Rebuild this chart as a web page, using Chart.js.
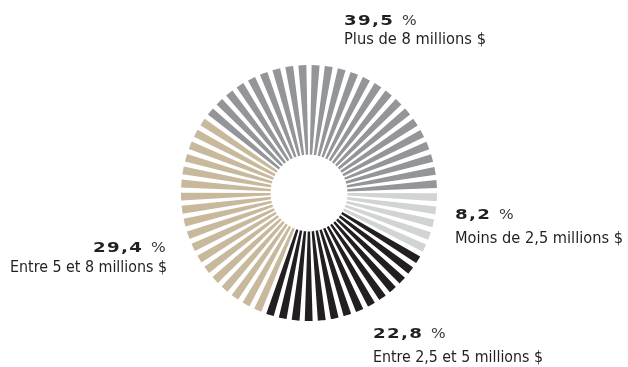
<!DOCTYPE html>
<html>
<head>
<meta charset="utf-8">
<script src="https://cdn.jsdelivr.net/npm/chart.js@4.4.0/dist/chart.umd.min.js"></script>
<style>
  html, body { margin: 0; padding: 0; background: #fff; }
  #wrap { width: 628px; height: 367px; position: relative; }
</style>
</head>
<body>
<div id="wrap"><canvas id="sunChart"></canvas></div>
<script>
// share of each bracket, in percent
const categories = ['Plus de 8 millions $', 'Moins de 2,5 millions $', 'Entre 2,5 et 5 millions $', 'Entre 5 et 8 millions $'];
const values = [39.5, 8.2, 22.8, 29.4];
const colors = ['#939598', '#d1d3d4', '#231f20', '#c8b99d'];

// label placement: [caption x, baseline of the number, baseline of the caption, caption width]
const labelPos = [
	[344, 25, 43.5, 142],
	[455, 219, 242.5, 168],
	[373, 338, 362, 170],
	[10, 252, 271.5, 157],
];
const numberX = [344, 455, 373, 93];

// split every bracket into thin rays, about 60 rays around the ring
const RAYS = 60;
const FILL = 0.6;
let rayData = [];
let rayColors = [];
values.forEach((v, i) => {
	let n = Math.max(1, Math.round((v / 100) * RAYS));
	let step = v / n;
	for (let k = 0; k < n; k++) {
		rayData.push(step * FILL, step * (1 - FILL));
		rayColors.push(colors[i], 'rgba(0,0,0,0)');
	}
});

const labelsPlugin = {
	id: 'bracketLabels',
	afterDraw(chart) {
		const ctx = chart.ctx;
		values.forEach((v, i) => {
			const [x, yNum, yTxt, w] = labelPos[i];
			const num = v.toFixed(1).replace('.', ',');
			ctx.save();
			ctx.fillStyle = '#231f20';
			ctx.textBaseline = 'alphabetic';
			ctx.font = 'bold 14px "DejaVu Sans"';
			ctx.letterSpacing = '1px';
			ctx.translate(numberX[i], yNum);
			ctx.scale(1.3, 1);
			ctx.fillText(num, 0, 0);
			const nw = ctx.measureText(num).width;
			ctx.letterSpacing = '0px';
			ctx.font = '14px "DejaVu Sans"';
			ctx.fillStyle = '#3a3a3a';
			ctx.scale(0.85, 1);
			ctx.fillText('%', (nw + 6) / 0.85, 0);
			ctx.restore();

			ctx.save();
			ctx.fillStyle = '#231f20';
			ctx.font = '15px "Liberation Sans Narrow", "DejaVu Sans Condensed", sans-serif';
			const tw = ctx.measureText(categories[i]).width;
			ctx.translate(x, yTxt);
			ctx.scale(w / tw, 1);
			ctx.fillText(categories[i], 0, 0);
			ctx.restore();
		});
	},
};

new Chart(document.getElementById('sunChart'), {
	type: 'doughnut',
	data: {
		labels: rayData.map((_, i) => String(i)),
		datasets: [
			{
				data: rayData,
				backgroundColor: rayColors,
				borderWidth: 0,
			},
		],
	},
	options: {
		responsive: true,
		maintainAspectRatio: false,
		animation: false,
		cutout: '30%',
		rotation: 90 - 3.6 * values[0],
		layout: { padding: { top: 65, bottom: 46, left: 181, right: 191 } },
		plugins: {
			legend: { display: false },
			tooltip: { enabled: false },
		},
		events: [],
	},
	plugins: [labelsPlugin],
});
</script>
</body>
</html>
